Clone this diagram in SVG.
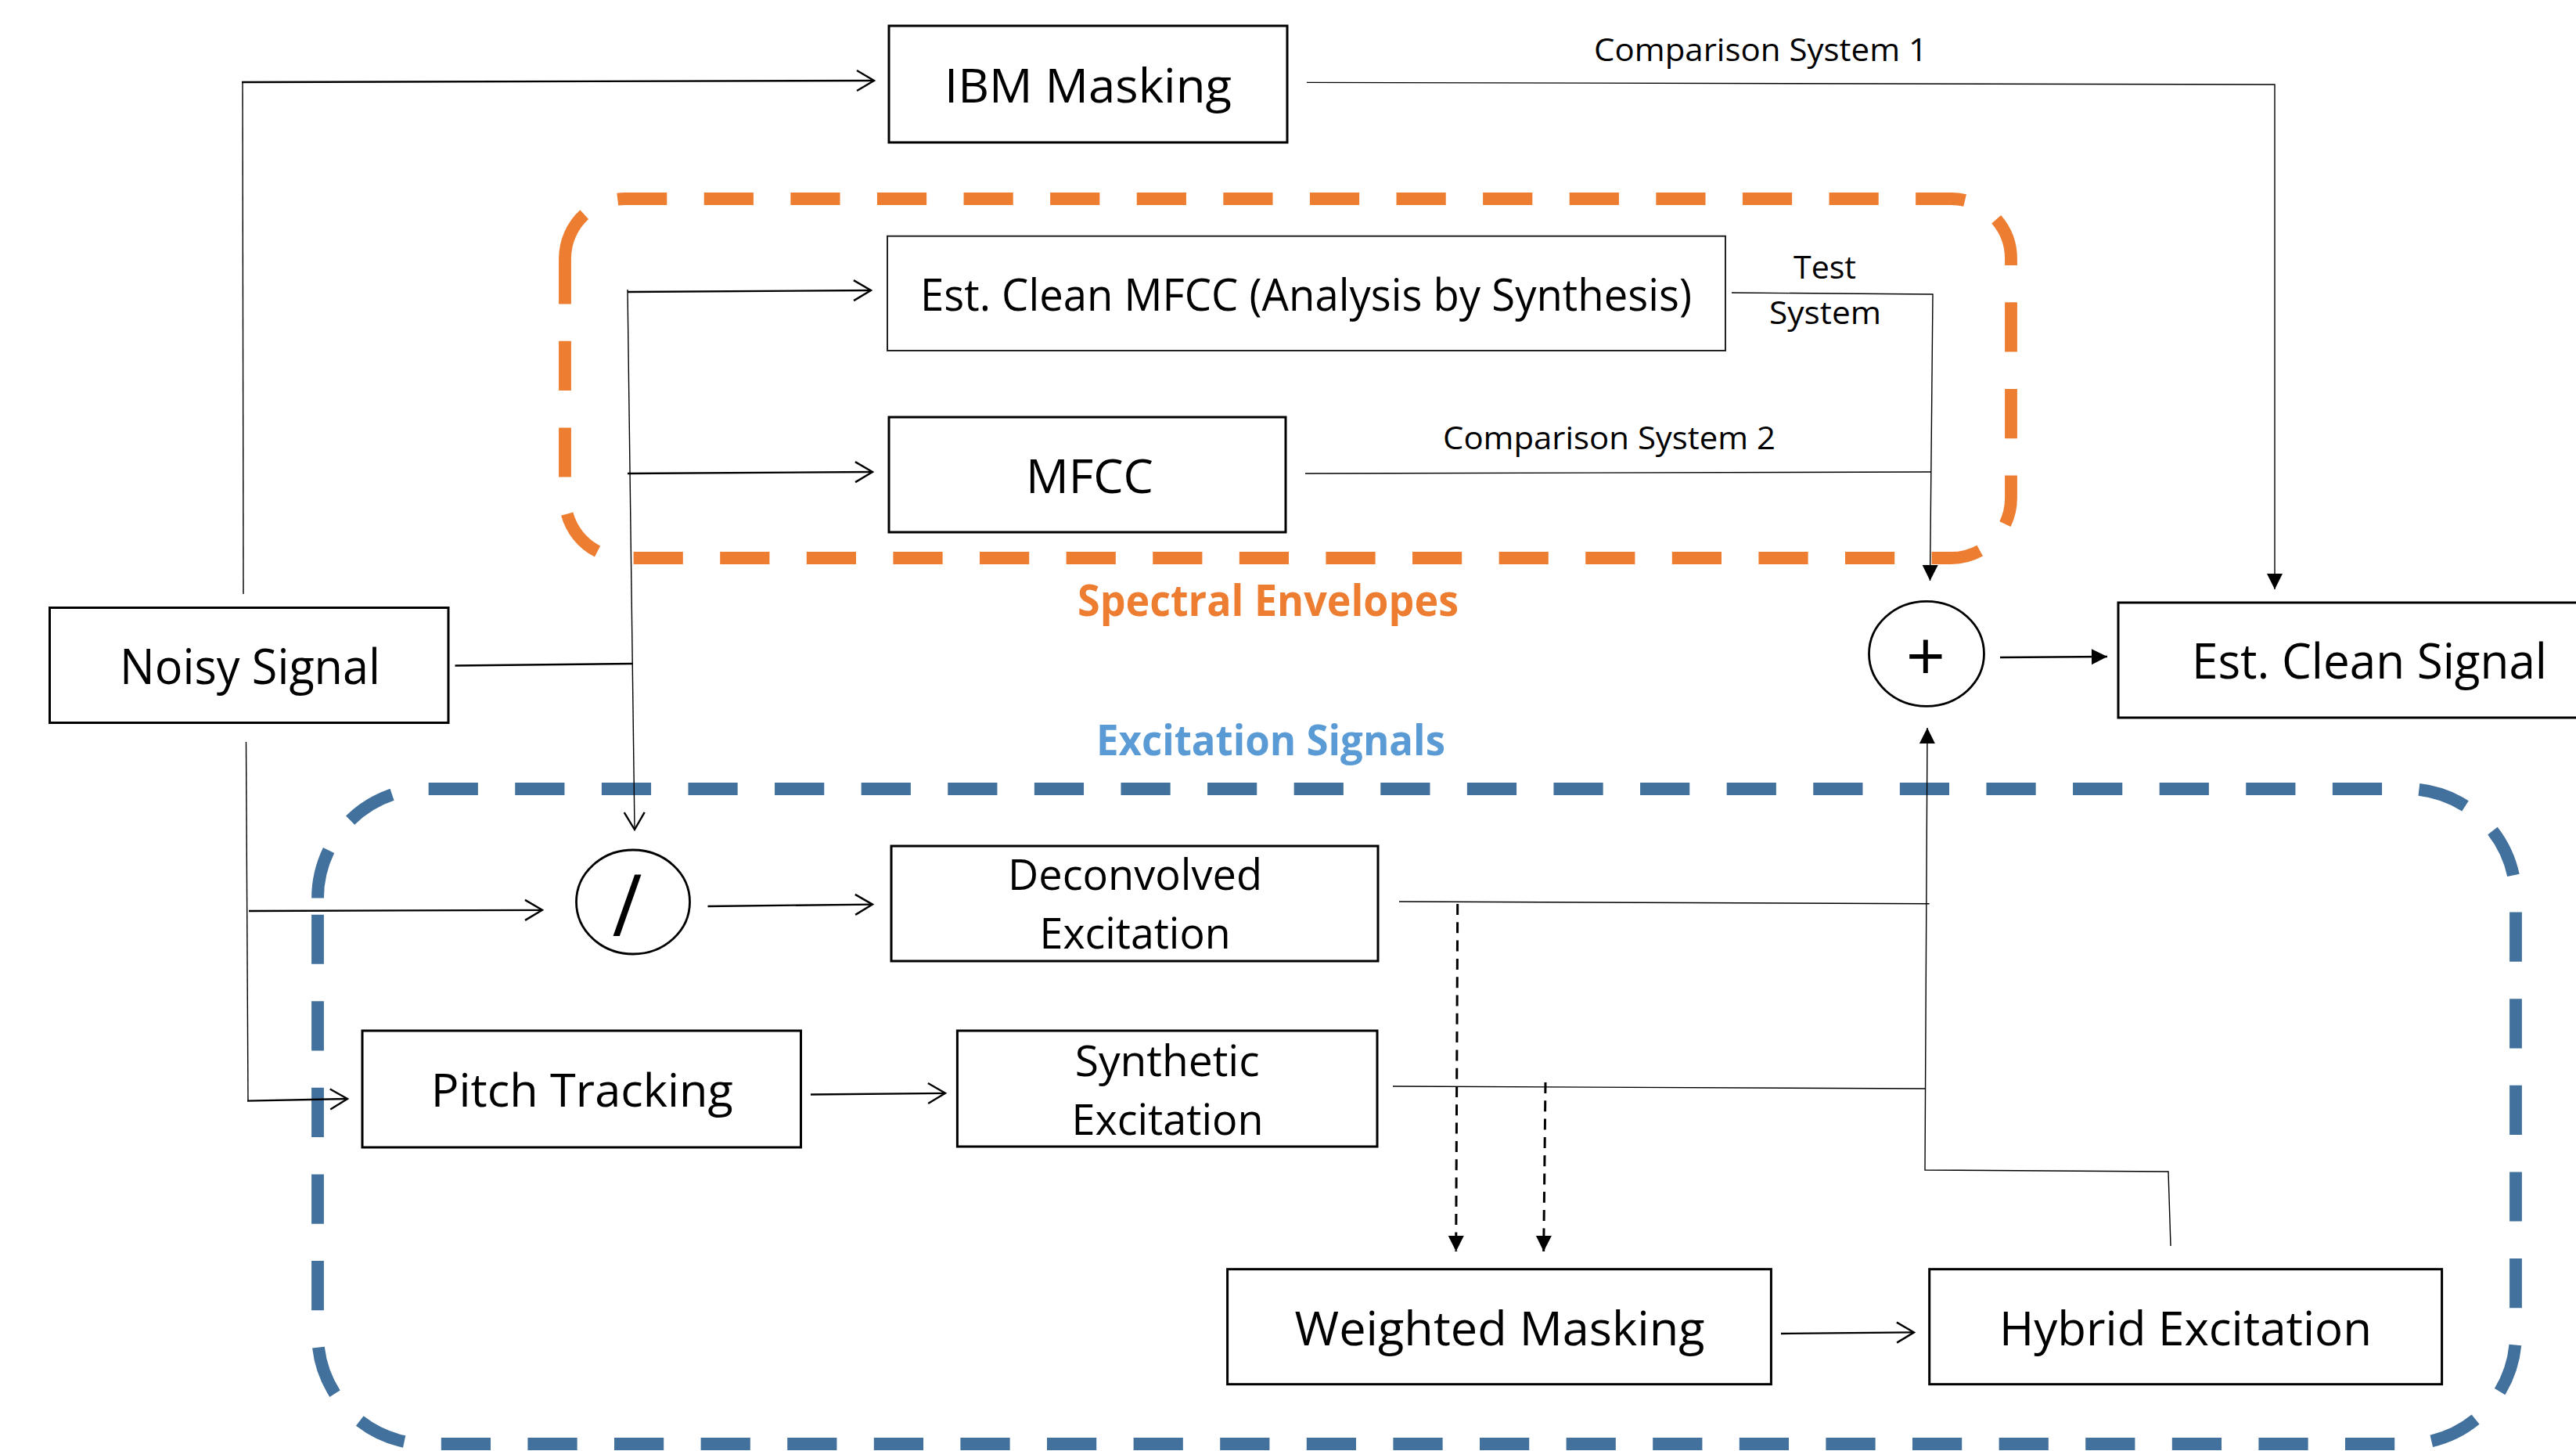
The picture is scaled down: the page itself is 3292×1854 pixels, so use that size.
<svg xmlns="http://www.w3.org/2000/svg" width="3292" height="1854" viewBox="0 0 3292 1854">
  <style>
    .box { fill: #fff; stroke: #000; stroke-width: 3; }
    .box-thin { fill: #fff; stroke: #222; stroke-width: 2; }
    .op { fill: #fff; stroke: #000; stroke-width: 2.8; }
    .lbl { font-family: "Open Sans", "Liberation Sans", sans-serif; fill: #000; text-anchor: middle; }
    .grp { font-family: "Open Sans", "Liberation Sans", sans-serif; font-weight: bold; text-anchor: middle; }
    .wire { fill: none; stroke: #000; stroke-width: 1.4; }
    .feed { fill: none; stroke: #000; stroke-width: 2.3; }
    .dash { fill: none; stroke: #000; stroke-width: 3; stroke-dasharray: 14 9.3; }
    .env { fill: none; stroke-width: 15.8; stroke-dasharray: 63.2 47.4; }
  </style>
  <defs>
    <marker id="open" markerUnits="userSpaceOnUse" viewBox="-26 -16 30 32" markerWidth="30" markerHeight="32" refX="0" refY="0" orient="auto">
      <path d="M -22 -13 L 0 0 L -22 13" fill="none" stroke="#000" stroke-width="2.4"/>
    </marker>
    <marker id="solid" markerUnits="userSpaceOnUse" viewBox="-22 -12 24 24" markerWidth="24" markerHeight="24" refX="0" refY="0" orient="auto">
      <path d="M -20 -10 L 0 0 L -20 10 Z" fill="#000"/>
    </marker>
  </defs>

  <rect width="3292" height="1854" fill="#fff"/>

  <!-- grouping frames -->
  <g id="spectral-envelopes">
    <path class="env" stroke="#ED7D31" d="M 722 330.5 A 76.5 76.5 0 0 1 798.5 254 H 2493.5 A 76.5 76.5 0 0 1 2570 330.5 V 636.5 A 76.5 76.5 0 0 1 2493.5 713 H 798.5 A 76.5 76.5 0 0 1 722 636.5 Z"/>
    <text class="grp" x="1620.5" y="787" font-size="55" fill="#ED7D31" textLength="487" lengthAdjust="spacingAndGlyphs">Spectral Envelopes</text>
  </g>
  <g id="excitation-signals">
    <path class="env" stroke="#41719C" d="M 406 1147.5 A 139.5 139.5 0 0 1 545.5 1008 H 3075.5 A 139.5 139.5 0 0 1 3215 1147.5 V 1705.5 A 139.5 139.5 0 0 1 3075.5 1845 H 545.5 A 139.5 139.5 0 0 1 406 1705.5 Z"/>
    <text class="grp" x="1624" y="965" font-size="53" fill="#5B9BD5" textLength="446" lengthAdjust="spacingAndGlyphs">Excitation Signals</text>
  </g>

  <!-- connectors -->
  <g id="connectors">
    <!-- noisy signal fan-out -->
    <line class="wire" x1="311" y1="759" x2="310" y2="105"/>
    <line class="feed" x1="309" y1="105" x2="1117" y2="103" marker-end="url(#open)"/>
    <line class="feed" x1="581.5" y1="850.5" x2="809" y2="848"/>
    <line class="wire" x1="802" y1="370" x2="811" y2="1060" marker-end="url(#open)"/>
    <line class="feed" x1="802" y1="373" x2="1113" y2="371" marker-end="url(#open)"/>
    <line class="feed" x1="802" y1="605" x2="1115" y2="603" marker-end="url(#open)"/>
    <line class="wire" x1="314.5" y1="948" x2="317" y2="1406.6"/>
    <line class="feed" x1="316" y1="1406.6" x2="444" y2="1404" marker-end="url(#open)"/>
    <line class="feed" x1="318" y1="1164" x2="693" y2="1162.8" marker-end="url(#open)"/>

    <!-- comparison system 1 -->
    <polyline class="wire" points="1670,105.4 2907,108 2907,753" marker-end="url(#solid)"/>
    <text class="lbl" x="2250" y="77.6" font-size="40.6" textLength="426" lengthAdjust="spacingAndGlyphs">Comparison System 1</text>

    <!-- test system -->
    <polyline class="wire" points="2213,374 2470,376 2466.5,742" marker-end="url(#solid)"/>
    <text class="lbl" x="2332" y="356" font-size="40.6" textLength="80" lengthAdjust="spacingAndGlyphs">Test</text>
    <text class="lbl" x="2332.5" y="414" font-size="40.6" textLength="143" lengthAdjust="spacingAndGlyphs">System</text>

    <!-- comparison system 2 -->
    <line class="wire" x1="1668" y1="605" x2="2468" y2="603"/>
    <text class="lbl" x="2056.5" y="574" font-size="40.6" textLength="425" lengthAdjust="spacingAndGlyphs">Comparison System 2</text>

    <!-- summation output -->
    <line class="feed" x1="2556" y1="840" x2="2693" y2="839" marker-end="url(#solid)"/>

    <!-- excitation path -->
    <line class="feed" x1="904.5" y1="1158" x2="1115" y2="1155.6" marker-end="url(#open)"/>
    <line class="feed" x1="1036" y1="1398.5" x2="1208" y2="1396.8" marker-end="url(#open)"/>
    <line class="wire" x1="1788" y1="1152" x2="2465.7" y2="1154.7"/>
    <line class="wire" x1="1780" y1="1388" x2="2460" y2="1391"/>
    <polyline class="wire" points="2774,1592 2771,1497 2460,1495 2463,930" marker-end="url(#solid)"/>
    <line class="dash" x1="1862.7" y1="1155" x2="1860.7" y2="1599" marker-end="url(#solid)"/>
    <line class="dash" x1="1975" y1="1383" x2="1972.7" y2="1599" marker-end="url(#solid)"/>
    <line class="feed" x1="2276" y1="1704" x2="2446" y2="1702.4" marker-end="url(#open)"/>
  </g>

  <!-- nodes -->
  <g id="ibm-masking">
    <rect class="box" x="1136" y="33" width="509" height="149"/>
    <text class="lbl" x="1390.5" y="131" font-size="60" textLength="367" lengthAdjust="spacingAndGlyphs">IBM Masking</text>
  </g>
  <g id="est-clean-mfcc">
    <rect class="box-thin" x="1134" y="301.7" width="1071" height="146.3"/>
    <text class="lbl" x="1669" y="397" font-size="56" textLength="986" lengthAdjust="spacingAndGlyphs">Est. Clean MFCC (Analysis by Synthesis)</text>
  </g>
  <g id="mfcc">
    <rect class="box" x="1136" y="533" width="507" height="147"/>
    <text class="lbl" x="1392.5" y="630" font-size="60" textLength="163" lengthAdjust="spacingAndGlyphs">MFCC</text>
  </g>
  <g id="noisy-signal">
    <rect class="box" x="63.5" y="776.5" width="509.5" height="147"/>
    <text class="lbl" x="319.5" y="873.5" font-size="63" textLength="333" lengthAdjust="spacingAndGlyphs">Noisy Signal</text>
  </g>
  <g id="sum">
    <ellipse class="op" cx="2462" cy="835.3" rx="73.5" ry="67"/>
    <text class="lbl" x="2461" y="870" font-size="88">+</text>
  </g>
  <g id="est-clean-signal">
    <rect class="box" x="2707" y="770" width="620" height="147"/>
    <text class="lbl" x="3028" y="866.6" font-size="61.6" textLength="454" lengthAdjust="spacingAndGlyphs">Est. Clean Signal</text>
  </g>
  <g id="divide">
    <ellipse class="op" cx="809" cy="1152.5" rx="72.5" ry="66.5" stroke-width="2.4"/>
    <text class="lbl" x="801.5" y="1196" font-size="110" textLength="38" lengthAdjust="spacingAndGlyphs">/</text>
  </g>
  <g id="deconvolved-excitation">
    <rect class="box" x="1139" y="1081" width="622" height="147"/>
    <text class="lbl" x="1450.5" y="1137" font-size="54.6" textLength="325" lengthAdjust="spacingAndGlyphs">Deconvolved</text>
    <text class="lbl" x="1450.6" y="1212" font-size="54.6" textLength="244" lengthAdjust="spacingAndGlyphs">Excitation</text>
  </g>
  <g id="pitch-tracking">
    <rect class="box" x="463" y="1317" width="560.5" height="149"/>
    <text class="lbl" x="743.7" y="1414" font-size="58" textLength="386" lengthAdjust="spacingAndGlyphs">Pitch Tracking</text>
  </g>
  <g id="synthetic-excitation">
    <rect class="box" x="1223.4" y="1317" width="536.6" height="148"/>
    <text class="lbl" x="1491.7" y="1375" font-size="54.6" textLength="236" lengthAdjust="spacingAndGlyphs">Synthetic</text>
    <text class="lbl" x="1492" y="1450" font-size="54.6" textLength="245" lengthAdjust="spacingAndGlyphs">Excitation</text>
  </g>
  <g id="weighted-masking">
    <rect class="box" x="1568.6" y="1621.7" width="694.8" height="147"/>
    <text class="lbl" x="1916.6" y="1718.5" font-size="61" textLength="524" lengthAdjust="spacingAndGlyphs">Weighted Masking</text>
  </g>
  <g id="hybrid-excitation">
    <rect class="box" x="2465.7" y="1621.7" width="654.9" height="147"/>
    <text class="lbl" x="2793" y="1718.5" font-size="61" textLength="476" lengthAdjust="spacingAndGlyphs">Hybrid Excitation</text>
  </g>
</svg>
